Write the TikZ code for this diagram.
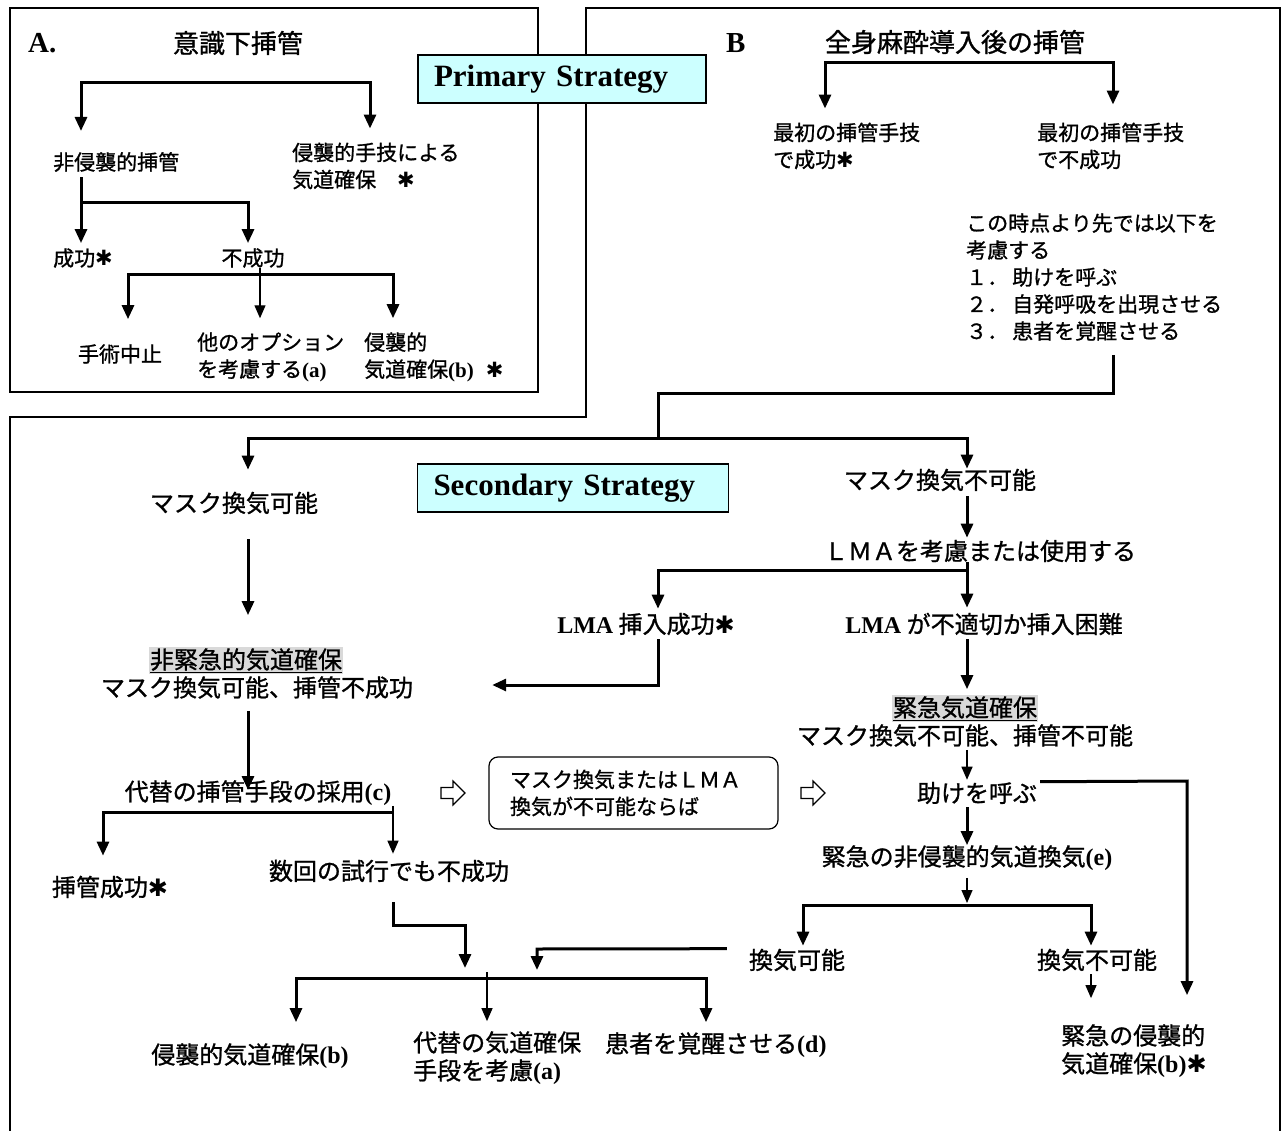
\documentclass[tikz,border=0pt]{standalone}
\usepackage{fontspec}
\setmainfont{Noto Sans CJK JP}[FakeBold=1]
\newfontfamily\tnr{Liberation Serif}
\newfontfamily\djv{DejaVu Sans}
\usepackage{xcolor}
\usepackage{tikz}
\usetikzlibrary{arrows.meta}
\definecolor{stratcyan}{HTML}{CCFFFF}
\definecolor{hlgray}{HTML}{D9D9D9}
\newcommand{\bodyf}{\fontsize{21}{27}\selectfont}
\newcommand{\bigf}{\fontsize{24}{28}\selectfont}
\newcommand{\ttlf}{\fontsize{26}{30}\selectfont}
\newcommand{\lb}[1]{{\tnr\bfseries #1}}
\newcommand{\hast}{{\djv ✱}}
\newcommand{\hlbox}[1]{{\setlength{\fboxsep}{1pt}\colorbox{hlgray}{\underline{#1}}}}
\newcommand{\hollowar}[1]{\draw[line width=1.2pt] ([shift={(-12,-5.5)}]#1) -- ([shift={(0,-5.5)}]#1)
  -- ([shift={(0,-12)}]#1) -- ([shift={(12,0)}]#1) -- ([shift={(0,12)}]#1) -- ([shift={(0,5.5)}]#1)
  -- ([shift={(-12,5.5)}]#1) -- cycle;}

\begin{document}
\begin{tikzpicture}[x=1pt, y=-1pt,
  txt/.style={inner sep=0pt, font=\bodyf, align=left},
  big/.style={inner sep=0pt, font=\bigf, align=left},
  ttl/.style={inner sep=0pt, font=\ttlf},
  lbl/.style={inner sep=0pt, font=\tnr\bfseries\fontsize{29}{31}\selectfont},
  strat/.style={draw, line width=1.2pt, fill=stratcyan, inner xsep=16pt, inner ysep=0pt,
                minimum height=48pt, align=left, font=\tnr\bfseries\fontsize{31}{33}\selectfont},
  cond/.style={draw, line width=1.2pt, rounded corners=9pt, inner xsep=21pt, inner ysep=0pt,
               text width=247pt, minimum height=72pt, align=left, font=\bodyf},
  frame/.style={line width=1.6pt},
  ln/.style={line width=3pt},
  ar/.style={line width=3pt, -{Triangle[length=14pt,width=12pt]}},
  tar/.style={line width=1.3pt, -{Triangle[length=13pt,width=11pt]}}]
\useasboundingbox (0,0) rectangle (1284,1131);
\draw[frame] (10,8) rectangle (538,392);
\draw[frame] (10,1131) -- (10,417) -- (586,417) -- (586,8) -- (1280,8) -- (1280,1131);

\node[strat, text width=256pt] (prim) at (562,79) {Primary Strategy};
\node[strat, text width=279pt] (sec) at (573,488) {Secondary Strategy};

% A
\node[lbl, anchor=west] (alab) at (28,43) {A.};
\node[ttl] (ttla) at (238,43) {意識下挿管};
\node[txt, anchor=west] (niv) at (53,162) {非侵襲的挿管};
\node[txt, anchor=west] (inv) at (292,166) {侵襲的手技による\\気道確保　\hast};
\node[txt, anchor=west] (succa) at (53,258) {成功\hast};
\node[txt] (faila) at (253,258) {不成功};
\node[txt] (stop) at (120,354) {手術中止};
\node[txt, anchor=west] (other) at (197,357) {他のオプション\\を考慮する\lb{(a)}};
\node[txt, anchor=west] (invb) at (364,357) {侵襲的\\気道確保\lb{(b)}\hspace{12pt}\hast};

\coordinate (ja1) at (81,83); \coordinate (ja2) at (370,83);
\coordinate (ja3) at (81,203); \coordinate (ja4) at (248,203);
\coordinate (ja5) at (128,275); \coordinate (ja6) at (393,275); \coordinate (ja7) at (260,275);
\draw[ar, shorten >=21pt] (ja2) -- (ja1) -- (ja1 |- niv.north);
\draw[ar, shorten >=14pt] (ja1) -- (ja2) -- (ja2 |- inv.north);
\draw[ar, shorten <=5pt, shorten >=5pt] (ja3 |- niv.south) -- (ja3 |- succa.north);
\draw[ar, shorten >=5pt] (ja3) -- (ja4) -- (ja4 |- faila.north);
\draw[ar, shorten >=25pt] (ja6) -- (ja5) -- (ja5 |- stop.north);
\draw[ar, shorten >=14pt] (ja5) -- (ja6) -- (ja6 |- invb.north);
\draw[tar, shorten >=14pt] (ja7 |- faila.south) -- (ja7 |- other.north);

% B
\node[lbl, anchor=west] (blab) at (726,43) {B};
\node[ttl] (ttlb) at (955,42) {全身麻酔導入後の挿管};
\node[txt, anchor=west] (first1) at (773,146) {最初の挿管手技\\で成功\hast};
\node[txt, anchor=west] (first2) at (1037,146) {最初の挿管手技\\で不成功};
\node[txt, anchor=west] (consider) at (966,277)
  {この時点より先では以下を\\考慮する\\１．\hspace{4pt}助けを呼ぶ\\２．\hspace{4pt}自発呼吸を出現させる\\３．\hspace{4pt}患者を覚醒させる};

\coordinate (jb1) at (825,63); \coordinate (jb2) at (1113,63);
\coordinate (jb3) at (1113,393); \coordinate (jb4) at (658,393); \coordinate (jb5) at (658,438);
\coordinate (jb6) at (248,438); \coordinate (jb7) at (967,438);
\draw[ar, shorten >=14pt] (jb2) -- (jb1) -- (jb1 |- first1.north);
\draw[ar, shorten >=18pt] (jb1) -- (jb2) -- (jb2 |- first2.north);
\draw[ln, shorten <=14pt] (jb3 |- consider.south) -- (jb3) -- (jb4) -- (jb5);

% secondary
\node[big] (mvok) at (234,503) {マスク換気可能};
\node[big] (mvng) at (940,480) {マスク換気不可能};
\node[big] (lmac) at (980,551) {ＬＭＡを考慮または使用する};
\node[big] (lmaok) at (646,624) {\lb{LMA} 挿入成功\hast};
\node[big] (lmang) at (984,624) {\lb{LMA} が不適切か挿入困難};
\node[big, align=center] (nonemg) at (257,673) {\hlbox{非緊急的気道確保}\hspace*{22pt}\\マスク換気可能、挿管不成功};
\node[big, align=center] (emg) at (965,721) {\hlbox{緊急気道確保}\\マスク換気不可能、挿管不可能};
\node[big] (alt) at (258,793) {代替の挿管手段の採用\lb{(c)}};
\node[cond] (cond) at (633.5,793) {マスク換気またはＬＭＡ\\換気が不可能ならば};
\coordinate (wa1) at (453,793); \coordinate (wa2) at (813,793);
\hollowar{wa1} \hollowar{wa2}
\node[big] (help) at (977,793) {助けを呼ぶ};
\node[big] (emgniv) at (967,858) {緊急の非侵襲的気道換気\lb{(e)}};
\node[big] (okint) at (110,887) {挿管成功\hast};
\node[big] (fails) at (389,871) {数回の試行でも不成功};
\node[big] (ventok) at (797,960) {換気可能};
\node[big] (ventng) at (1097,960) {換気不可能};
\node[big, anchor=west] (emginv) at (1061,1051) {緊急の侵襲的\\気道確保\lb{(b)}\hast};
\node[big] (invb2) at (250,1056) {侵襲的気道確保\lb{(b)}};
\node[big, anchor=west] (altair) at (413,1058) {代替の気道確保\\手段を考慮\lb{(a)}};
\node[big, anchor=west] (wake) at (605,1045) {患者を覚醒させる\lb{(d)}};

\coordinate (jc1) at (967,570); \coordinate (jc2) at (658,570); \coordinate (jc3) at (658,685);
\coordinate (jd1) at (1187,781); \coordinate (jd2) at (967,905);
\coordinate (jd3) at (803,905); \coordinate (jd4) at (1091,905);
\coordinate (je1) at (537,949);
\coordinate (jf1) at (296,978); \coordinate (jf2) at (706,978); \coordinate (jf3) at (487,978);
\coordinate (jg1) at (103,812); \coordinate (jg2) at (393,812);
\coordinate (jh1) at (393,925); \coordinate (jh2) at (465,925);
\draw[ar, shorten >=22pt] (jb7) -- (jb6) -- (jb6 |- mvok.north);
\draw[ar] (jb6) -- (jb7) -- (jb7 |- mvng.north);
\draw[ar, shorten <=25pt, shorten >=32pt] (jb6 |- mvok.south) -- (jb6 |- nonemg.north);
\draw[ar, shorten <=5pt, shorten >=2pt] (jb7 |- mvng.south) -- (jb7 |- lmac.north);
\draw[ar, shorten >=5pt] (jc1 |- lmac.south) -- (jc1 |- lmang.north);
\draw[ar, shorten >=4pt] (jc1) -- (jc2) -- (jc2 |- lmaok.north);
\draw[ar, shorten <=4pt, shorten >=79pt] (jc2 |- lmaok.south) -- (jc3) -- (nonemg.east |- jc3);
\draw[ar, shorten <=4pt, shorten >=6pt] (jc1 |- lmang.south) -- (jc1 |- emg.north);
\draw[ar, shorten <=12pt, shorten >=3pt] (jb6 |- nonemg.south) -- (jb6 |- alt.center);
\draw[tar, shorten <=3pt, shorten >=2pt] (jc1 |- emg.south) -- (jc1 |- help.north);
\draw[ar, shorten <=3pt, shorten >=29pt] (help.north east) -- (jd1) -- (jd1 |- emginv.north);
\draw[ar, shorten <=3pt] (jc1 |- help.south) -- (jc1 |- emgniv.north);
\draw[tar, shorten <=7pt, shorten >=2pt] (jd2 |- emgniv.south) -- (jd2);
\draw[ar, shorten >=3pt] (jd4) -- (jd3) -- (jd3 |- ventok.north);
\draw[ar, shorten >=3pt] (jd3) -- (jd4) -- (jd4 |- ventng.north);
\draw[tar, shorten <=3pt, shorten >=26pt] (jd4 |- ventng.south) -- (jd4 |- emginv.north);
\draw[ar, shorten >=20pt] (jg2) -- (jg1) -- (jg1 |- okint.north);
\draw[tar, shorten >=6pt] (jg2 |- alt.south) -- (jg2 |- fails.north);
\draw[ar, shorten <=20pt, shorten >=10pt] (jh1 |- fails.south) -- (jh1) -- (jh2) -- (jh2 |- jf1);
\draw[ar, shorten <=22pt, shorten >=8pt] (ventok.north west) -- (je1) -- (je1 |- jf1);
\draw[ar, shorten >=21pt] (jf2) -- (jf1) -- (jf1 |- invb2.north);
\draw[ar, shorten >=10pt] (jf1) -- (jf2) -- (jf2 |- wake.north);
\draw[tar, shorten >=10pt] ([yshift=6pt]jf3) -- (jf3 |- altair.north);
\end{tikzpicture}
\end{document}
